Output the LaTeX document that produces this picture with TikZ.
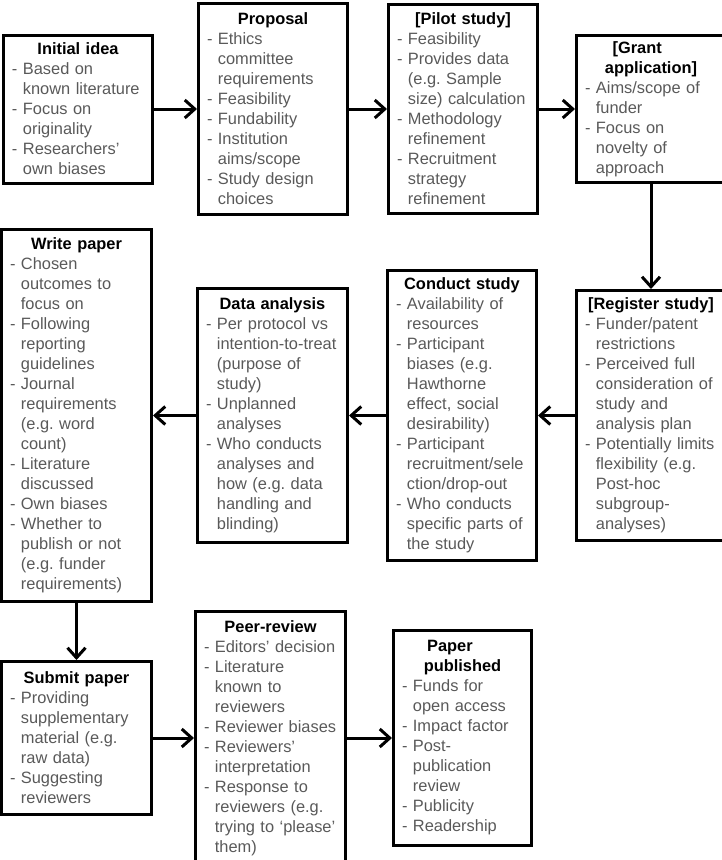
\documentclass[tikz,border=0pt]{standalone}
\usepackage{fontspec}
\setmainfont{Liberation Sans}
\usepackage{tikz}
\usetikzlibrary{arrows.meta}
\usetikzlibrary{positioning}
\definecolor{itemgray}{HTML}{595959}
\frenchspacing
\newcommand{\stagetitle}[1]{{\centering\color{black}\bfseries #1\par}}
\newcommand{\itm}[1]{\noindent\setbox0=\hbox{-\ }\hangindent=\wd0\hangafter=1\box0 #1\par}

\begin{document}
\begin{tikzpicture}[x=1pt,y=-1pt,node distance=36pt,
		stage/.style={draw,rectangle,line width=3pt,align=left,text width=132pt,inner xsep=8.5pt,inner ysep=3pt,text=itemgray,font=\fontsize{16.4}{20}\selectfont},
		flow/.style={line width=3pt,-{Straight Barb[length=10pt,width=18pt]}}]
		\useasboundingbox (0,0) rectangle (721,860);
		\node [stage,minimum height=148pt] (idea) at (78,109) {\stagetitle{Initial idea}\itm{Based on\newline known literature}\itm{Focus on\newline originality}\itm{Researchers’\newline own biases}};
		\node [stage,right=43pt of idea,minimum height=211pt] (proposal) {\stagetitle{Proposal}\itm{Ethics\newline committee\newline requirements}\itm{Feasibility}\itm{Fundability}\itm{Institution\newline aims/scope}\itm{Study design\newline choices}};
		\node [stage,right=38pt of proposal,minimum height=209pt] (pilot) {\stagetitle{[Pilot study]}\itm{Feasibility}\itm{Provides data\newline (e.g. Sample\newline size) calculation}\itm{Methodology\newline refinement}\itm{Recruitment\newline strategy\newline refinement}};
		\node [stage,right=36pt of pilot,minimum height=147pt] (grant) {\stagetitle{[Grant\newline application]}\itm{Aims/scope of\newline funder}\itm{Focus on\newline novelty of\newline approach}};
		\node [stage,below=105pt of grant,minimum height=250pt] (register) {\stagetitle{[Register study]}\itm{Funder/patent\newline restrictions}\itm{Perceived full\newline consideration of\newline study and\newline analysis plan}\itm{Potentially limits\newline flexibility (e.g.\newline Post-hoc\newline subgroup-\newline analyses)}};
		\node [stage,left=37pt of register,minimum height=290pt] (conduct) {\stagetitle{Conduct study}\itm{Availability of\newline resources}\itm{Participant\newline biases (e.g.\newline Hawthorne\newline effect, social\newline desirability)}\itm{Participant\newline recruitment/sele\newline ction/drop-out}\itm{Who conducts\newline specific parts of\newline the study}};
		\node [stage,left=37pt of conduct,text width=133pt,minimum height=254pt] (analysis) {\stagetitle{Data analysis}\itm{Per protocol vs\newline intention-to-treat\newline (purpose of\newline study)}\itm{Unplanned\newline analyses}\itm{Who conducts\newline analyses and\newline how (e.g. data\newline handling and\newline blinding)}};
		\node [stage,left=43pt of analysis,text width=133pt,minimum height=372pt] (write) {\stagetitle{Write paper}\itm{Chosen\newline outcomes to\newline focus on}\itm{Following\newline reporting\newline guidelines}\itm{Journal\newline requirements\newline (e.g. word\newline count)}\itm{Literature\newline discussed}\itm{Own biases}\itm{Whether to\newline publish or not\newline (e.g. funder\newline requirements)}};
		\node [stage,below=57pt of write,text width=133pt,minimum height=153pt] (submit) {\stagetitle{Submit paper}\itm{Providing\newline supplementary\newline material (e.g.\newline raw data)}\itm{Suggesting\newline reviewers}};
		\node [stage,right=41pt of submit,text width=133pt,minimum height=253pt] (review) {\stagetitle{Peer-review}\itm{Editors’ decision}\itm{Literature\newline known to\newline reviewers}\itm{Reviewer biases}\itm{Reviewers’\newline interpretation}\itm{Response to\newline reviewers (e.g.\newline trying to ‘please’\newline them)}};
		\node [stage,right=45pt of review,text width=121pt,minimum height=215pt] (published) {\stagetitle{Paper\newline published}\itm{Funds for\newline open access}\itm{Impact factor}\itm{Post-\newline publication\newline review}\itm{Publicity}\itm{Readership}};

		\draw [flow] (idea) -- (proposal);
		\draw [flow] (proposal) -- (pilot);
		\draw [flow] (pilot) -- (grant);
		\draw [flow] (grant) -- (register);
		\draw [flow] (register) -- (conduct);
		\draw [flow] (conduct) -- (analysis);
		\draw [flow] (analysis) -- (write);
		\draw [flow] (write) -- (submit);
		\draw [flow] (submit) -- (review);
		\draw [flow] (review) -- (published);
	\end{tikzpicture}
\end{document}
